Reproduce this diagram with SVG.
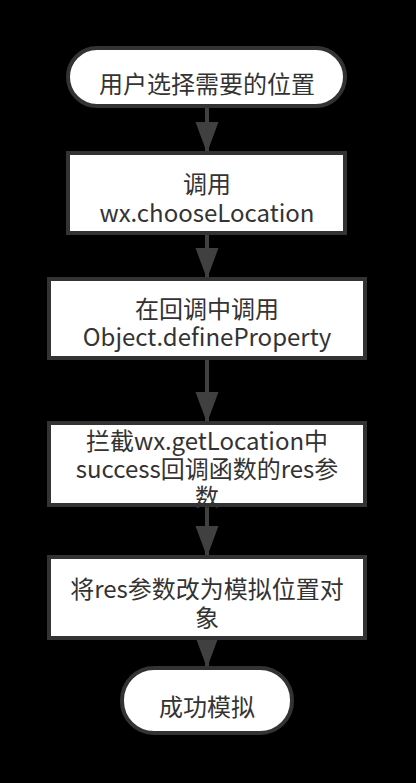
<svg xmlns="http://www.w3.org/2000/svg" width="416" height="783" viewBox="0 0 416 783">
<style>
.node rect{fill:#ffffff;stroke:#333333;stroke-width:4}
.t{font-family:"Noto Sans CJK SC","Liberation Sans",sans-serif;font-size:24px;fill:#333333;text-anchor:middle}
.conn line{stroke:#404040;stroke-width:4}
</style>
<defs>
<marker id="ah" markerUnits="userSpaceOnUse" markerWidth="32" markerHeight="24" refX="31" refY="11.5" orient="auto">
<path d="M0,0 L31,11.5 L0,23 z" fill="#404040"/>
</marker>
</defs>
<rect width="416" height="783" fill="#000000"/>
<g id="connectors" class="conn">
<line x1="207" y1="106" x2="207" y2="153" marker-end="url(#ah)"/>
<line x1="207" y1="233" x2="207" y2="279" marker-end="url(#ah)"/>
<line x1="207" y1="358" x2="207" y2="423" marker-end="url(#ah)"/>
<line x1="207" y1="505" x2="207" y2="557" marker-end="url(#ah)"/>
<line x1="207" y1="638" x2="207" y2="668" marker-end="url(#ah)"/>
</g>
<g id="n1" class="node">
<rect x="68" y="48" width="277" height="58" rx="29" ry="29"/>
<text class="t" x="207" y="93">用户选择需要的位置</text>
</g>
<g id="n2" class="node">
<rect x="68" y="153" width="277" height="80"/>
<text class="t" x="207" y="193">调用</text>
<text class="t" x="207" y="222">wx.chooseLocation</text>
</g>
<g id="n3" class="node">
<rect x="49" y="279" width="316" height="79"/>
<text class="t" x="207" y="318">在回调中调用</text>
<text class="t" x="207" y="346">Object.defineProperty</text>
</g>
<g id="n4" class="node">
<rect x="49" y="423" width="316" height="82"/>
<text class="t" x="207" y="450">拦截wx.getLocation中</text>
<text class="t" x="207" y="478">success回调函数的res参</text>
<text class="t" x="207" y="506">数</text>
</g>
<g id="n5" class="node">
<rect x="49" y="557" width="316" height="81"/>
<text class="t" x="207" y="598">将res参数改为模拟位置对</text>
<text class="t" x="207" y="627">象</text>
</g>
<g id="n6" class="node">
<rect x="122" y="668" width="170" height="65" rx="32" ry="32"/>
<text class="t" x="207" y="716">成功模拟</text>
</g>
</svg>
